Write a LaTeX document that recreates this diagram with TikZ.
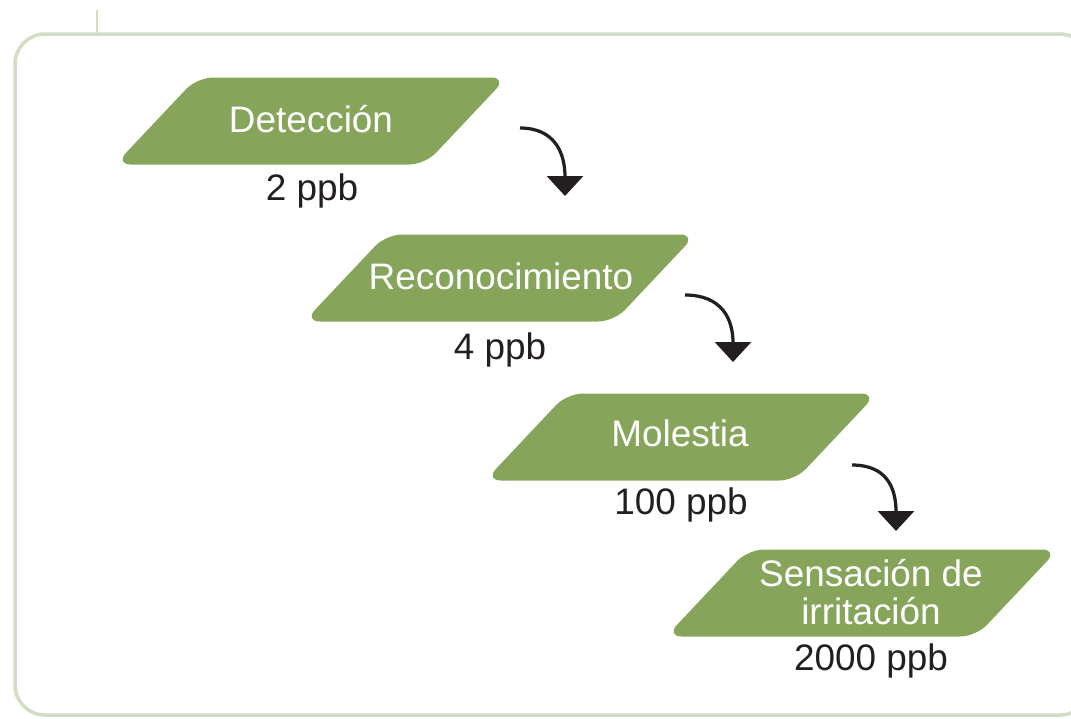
\documentclass[tikz,border=0pt]{standalone}
\usepackage{fontspec}
\setmainfont{Liberation Sans}
\usetikzlibrary{arrows.meta,positioning}
\definecolor{leafgreen}{RGB}{135,165,90}
\definecolor{framegreen}{RGB}{211,220,196}
\definecolor{inkdark}{RGB}{35,31,32}
\def\stagebox(#1,#2){\fill[leafgreen, rounded corners=0.32cm] (#1-196,#2+43.5) -- (#1-114,#2-43.5) -- (#1+196,#2-43.5) -- (#1+114,#2+43.5) -- cycle;}
\tikzset{
  stagetext/.style={inner sep=0pt, text=white, align=center, font=\fontsize{21}{21.5}\selectfont},
  level/.style={inner sep=0pt, text=inkdark, font=\fontsize{21}{21.5}\selectfont},
  nextstep/.style={line width=0.065cm, color=inkdark, -{Triangle[width=0.72cm,length=0.4cm]}}
}
\begin{document}
\begin{tikzpicture}[x=0.02cm, y=-0.02cm]
			%%%%% START %%%%%
			\useasboundingbox (0,0) rectangle (1071,718);
			
			\draw[line width=0.07cm, color=framegreen, rounded corners=0.6cm] (15,34) rectangle (1090,715);
			\draw[line width=0.05cm, color=framegreen] (97,10) -- (97,34);
			
			\stagebox(311,121)
			\node[stagetext, anchor=base] (det) at (311,132) {Detección};
			\node[level, anchor=north] (detv) at (312,173) {2 ppb};
			
			\stagebox(500,278)
			\node[stagetext, anchor=base] (rec) at (501,289) {Reconocimiento};
			\node[level, anchor=north] (recv) at (500,332) {4 ppb};
			
			\stagebox(681,437)
			\node[stagetext, anchor=base] (mol) at (680,446) {Molestia};
			\node[level, anchor=north] (molv) at (681,487) {100 ppb};
			
			\stagebox(862,593)
			\node[stagetext, anchor=base] (irr) at (871,624) {Sensación de\\irritación};
			\node[level, anchor=north] (irrv) at (871,643) {2000 ppb};
			
			\coordinate (a1s) at (520,128);
			\coordinate (a1e) at (565,196);
			\coordinate (a2s) at (685,295);
			\coordinate (a2e) at (733,362);
			\coordinate (a3s) at (852,465);
			\coordinate (a3e) at (896,531);
			
			\draw[nextstep] (a1s) .. controls +(34,0) and +(0,-44) .. (a1e);
			\draw[nextstep] (a2s) .. controls +(36,0) and +(0,-44) .. (a2e);
			\draw[nextstep] (a3s) .. controls +(34,0) and +(0,-44) .. (a3e);
			
			%%%%% END %%%%%
		\end{tikzpicture}
\end{document}
